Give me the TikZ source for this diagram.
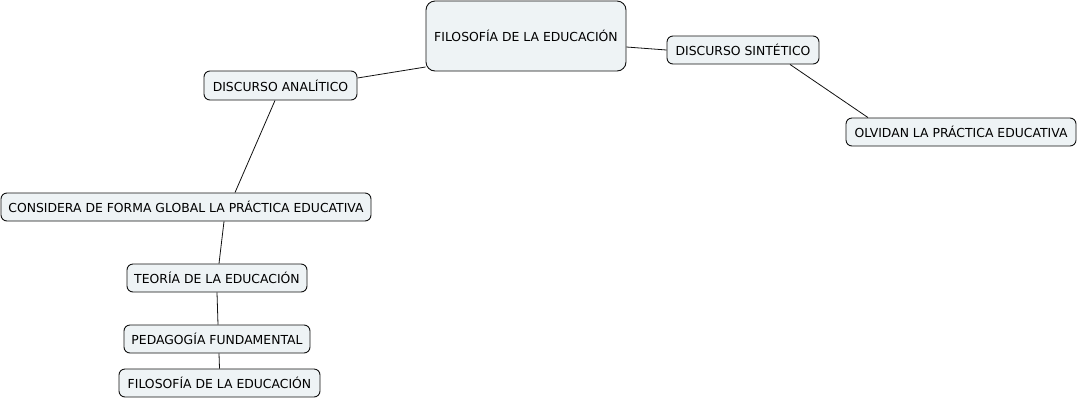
\documentclass[tikz,border=0pt]{standalone}
\usepackage{fontspec}
\setmainfont{DejaVu Sans}
\usepackage{xcolor}
\usepackage{tikz}
\usetikzlibrary{calc}
\definecolor{nodefill}{HTML}{EEF3F5}
\definecolor{edge}{HTML}{111111}

\begin{document}
\begin{tikzpicture}[
  x=1pt,y=-1pt,
  t/.style={draw=edge,line width=0.9pt,fill=nodefill,rounded corners=6pt,inner sep=0pt,align=center,
            font=\fontsize{12.4}{14}\selectfont,minimum height=28pt},
  r/.style={t,rounded corners=9pt,minimum height=70pt,minimum width=200pt},
  c/.style={draw=edge,line width=0.8pt}]
\useasboundingbox (0,0) rectangle (1079,400);
\node[r] (root) at (526,36)   {FILOSOFÍA DE LA EDUCACIÓN};
\node[t,minimum width=152pt] (sin)  at (743,50)   {DISCURSO SINTÉTICO};
\node[t,minimum width=230pt] (olv)  at (961,132)  {OLVIDAN LA PRÁCTICA EDUCATIVA};
\node[t,minimum width=153pt,minimum height=29pt] (ana) at (280.5,85.5) {DISCURSO ANALÍTICO};
\node[t,minimum width=370pt] (glob) at (186,207)  {CONSIDERA DE FORMA GLOBAL LA PRÁCTICA EDUCATIVA};
\node[t,minimum width=180pt] (teo)  at (217,278)  {TEORÍA DE LA EDUCACIÓN};
\node[t,minimum width=186pt] (ped)  at (217,339)  {PEDAGOGÍA FUNDAMENTAL};
\node[t,minimum width=201pt] (fil)  at (219.5,383) {FILOSOFÍA DE LA EDUCACIÓN};
\draw[c] ([yshift=-11pt]root.east) -- (sin.west);
\draw[c] ([yshift=7.5pt]ana.east) -- ([yshift=-31pt]root.west);
\draw[c] ([xshift=47pt]sin.south) -- ([xshift=-93pt]olv.north);
\draw[c] ([xshift=-5.5pt]ana.south) -- ([xshift=49pt]glob.north);
\draw[c] ([xshift=38pt]glob.south) -- ([xshift=2pt]teo.north);
\draw[c] (teo.south) -- ([xshift=1pt]ped.north);
\draw[c] ([xshift=2pt]ped.south) -- (fil.north);
\end{tikzpicture}
\end{document}
